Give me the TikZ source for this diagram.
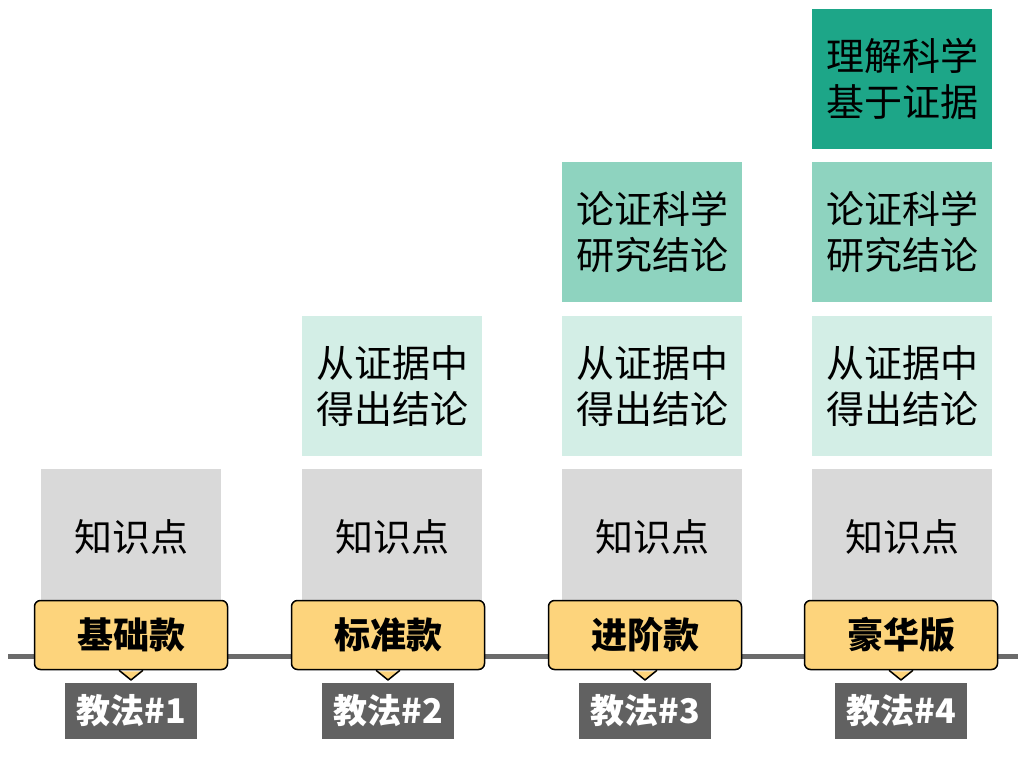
\documentclass[tikz,border=0pt]{standalone}
\usepackage{fontspec}
\newfontfamily\cjk{Noto Sans CJK SC}
\usetikzlibrary{positioning, calc}

\definecolor{boxgray}{HTML}{D9D9D9}
\definecolor{tealpale}{HTML}{D3EEE6}
\definecolor{tealmid}{HTML}{8ED3BF}
\definecolor{tealdark}{HTML}{1DA688}
\definecolor{tagyellow}{HTML}{FDD47C}
\definecolor{labelgray}{HTML}{616161}
\definecolor{axisgray}{HTML}{6B6B6B}

\begin{document}
\begin{tikzpicture}[x=1pt, y=-1pt,
    stepbox/.style={minimum width=180pt, minimum height=140pt, inner sep=0pt, align=center,
        font=\cjk\fontsize{38pt}{46pt}\selectfont, text=black},
    knowbox/.style={stepbox, fill=boxgray, minimum height=136pt},
    palebox/.style={stepbox, fill=tealpale},
    midbox/.style={stepbox, fill=tealmid},
    darkbox/.style={stepbox, fill=tealdark},
    tagbox/.style={draw=black, line width=1.5pt, fill=tagyellow,
        rounded corners=6pt, minimum width=193pt, minimum height=69pt, inner sep=0pt,
        font=\cjk\bfseries\fontsize{36pt}{40pt}\selectfont},
    tagpointer/.style={draw=black, line width=1.5pt, line join=round},
    methodbox/.style={fill=labelgray, text=white, minimum width=132pt, minimum height=56pt,
        inner sep=0pt, font=\cjk\bfseries\fontsize{34pt}{40pt}\selectfont},
    axisline/.style={draw=axisgray, line width=5pt}]

    % Canvas
    \useasboundingbox (0,0) rectangle (1024,768);

    % Base level: knowledge points
    \foreach \x [count=\i] in {131,392,652,902}
        \node[knowbox] (know\i) at (\x,537) {知识点};

    % Stacked levels
    \node[palebox, above=13pt of know2] (concl2) {从证据中\\得出结论};
    \node[palebox, above=13pt of know3] (concl3) {从证据中\\得出结论};
    \node[midbox, above=13pt of concl3] (argue3) {论证科学\\研究结论};
    \node[palebox, above=13pt of know4] (concl4) {从证据中\\得出结论};
    \node[midbox, above=13pt of concl4] (argue4) {论证科学\\研究结论};
    \node[darkbox, above=13pt of argue4] (under4) {理解科学\\基于证据};

    % Timeline
    \coordinate (axisL) at (8,656);
    \coordinate (axisR) at (1018,656);
    \draw[axisline] (axisL) -- (axisR);

    % Version tags and method labels
    \foreach \x/\t [count=\i] in {131/基础款, 388/标准款, 645/进阶款, 901/豪华版} {
        \node[tagbox] (tag\i) at (\x,635) {\t};
        \coordinate (tip\i) at (\x,680);
        \fill[tagyellow] ($(tag\i.south)+(-12pt,-1.2pt)$) -- (tip\i) -- ($(tag\i.south)+(12pt,-1.2pt)$) -- cycle;
        \draw[tagpointer] ($(tag\i.south)+(-12pt,0)$) -- (tip\i) -- ($(tag\i.south)+(12pt,0)$);
        \node[methodbox] (method\i) at (\x,711) {教法\#\i};
    }

\end{tikzpicture}
\end{document}
